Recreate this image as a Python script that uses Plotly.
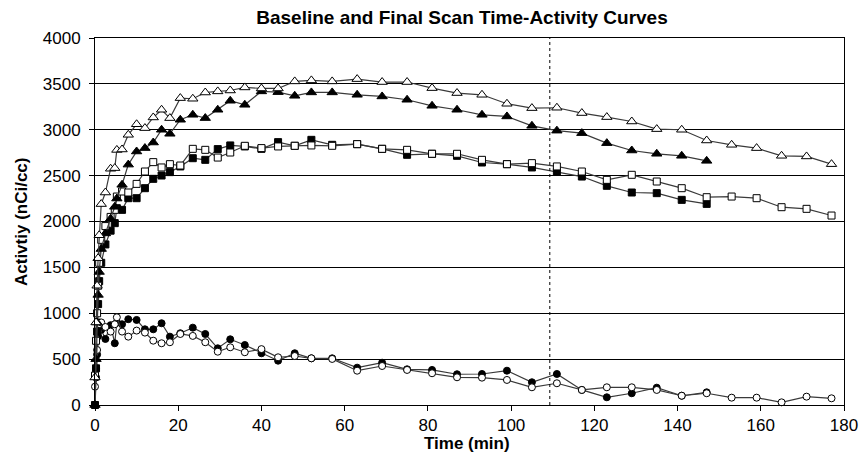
import plotly.graph_objects as go

# time grids (min)
t_baseline = [0, 0.25, 0.5, 0.75, 1, 1.5, 2.5, 3.75, 4.75, 5.25, 6.5, 8, 10, 12, 14, 16, 18,
              20.5, 23.5, 26.5, 29.5, 32.5, 36, 40, 44, 48, 52, 57, 63, 69, 75, 81, 87, 93,
              99, 105, 111, 117, 123, 129, 135, 141, 147, 153, 159, 165, 171, 177]
t_final = t_baseline[:43]

# baseline scan (open markers)
base_triangle = [300, 900, 1300, 1600, 1850, 2190, 2316, 2575, 2582, 2780, 2785, 2945, 3060,
                 3018, 3134, 3218, 3127, 3345, 3338, 3406, 3418, 3428, 3461, 3450, 3450, 3527,
                 3538, 3527, 3552, 3520, 3520, 3454, 3400, 3381, 3283, 3236, 3240, 3182, 3138,
                 3090, 3007, 3000, 2883, 2836, 2800, 2716, 2709, 2625]
base_square = [320, 700, 1000, 1300, 1550, 1800, 1950, 2050, 2127, 2272, 2327, 2316, 2410,
               2545, 2647, 2589, 2625, 2610, 2792, 2781, 2697, 2752, 2825, 2800, 2818, 2825,
               2829, 2825, 2843, 2792, 2781, 2738, 2738, 2672, 2625, 2636, 2600, 2545, 2454,
               2509, 2436, 2363, 2265, 2272, 2254, 2156, 2138, 2065]
base_circle = [200, 400, 600, 800, 880, 900, 850, 800, 880, 956, 800, 745, 811, 789, 701, 673,
               684, 774, 753, 684, 581, 629, 575, 609, 520, 534, 509, 502, 374, 425, 382, 346,
               302, 298, 273, 193, 237, 164, 193, 193, 164, 101, 128, 80, 80, 29, 91, 73]

# final scan (filled markers)
final_triangle = [0, 500, 900, 1200, 1450, 1700, 1870, 2030, 2160, 2250, 2400, 2620, 2763,
                  2800, 2861, 3000, 2956, 3109, 3163, 3127, 3218, 3316, 3272, 3418, 3410, 3370,
                  3407, 3407, 3381, 3363, 3327, 3261, 3218, 3163, 3145, 3043, 2990, 2963, 2854,
                  2774, 2738, 2716, 2661]
final_square = [0, 400, 800, 1100, 1350, 1550, 1750, 1900, 1982, 2145, 2127, 2254, 2254, 2363,
                2465, 2501, 2538, 2600, 2690, 2672, 2789, 2829, 2818, 2792, 2865, 2825, 2890,
                2836, 2843, 2792, 2727, 2738, 2716, 2643, 2625, 2589, 2540, 2490, 2389, 2316,
                2309, 2236, 2192]
final_circle = [0, 300, 550, 750, 900, 820, 720, 870, 673, 900, 880, 935, 927, 825, 825, 891,
                745, 782, 843, 774, 618, 716, 654, 564, 483, 564, 509, 509, 407, 461, 389, 382,
                335, 338, 374, 248, 338, 164, 84, 128, 189, 101, 138]

scan_marker_time = 109.3

FONT = "Arial, Liberation Sans, sans-serif"
LINE_COLOR = "#3a3a3a"

fig = go.Figure()

series = [
    (t_final, final_circle, "circle", "black", 7),
    (t_baseline, base_circle, "circle", "white", 7),
    (t_final, final_square, "square", "black", 7),
    (t_baseline, base_square, "square", "white", 7),
    (t_final, final_triangle, "triangle-up", "black", 9),
    (t_baseline, base_triangle, "triangle-up", "white", 9),
]
for x, y, sym, fill, sz in series:
    fig.add_trace(go.Scatter(
        x=x, y=y, mode="lines+markers",
        line=dict(color=LINE_COLOR, width=1.2),
        marker=dict(symbol=sym, size=sz, color=fill, line=dict(color="black", width=1)),
        showlegend=False, cliponaxis=False,
    ))

fig.add_shape(type="line", x0=scan_marker_time, x1=scan_marker_time, y0=0, y1=4000,
              xref="x", yref="y", line=dict(color="black", width=1, dash="dot"))

# plot area at window pixels left 95, right 844, top 38, bottom 405
fig.update_layout(
    width=861, height=466,
    margin=dict(l=95, r=17, t=38, b=61, autoexpand=False),
    paper_bgcolor="white", plot_bgcolor="white",
    font=dict(family=FONT, size=17, color="black"),
    title=dict(text="<b>Baseline and Final Scan Time-Activity Curves</b>",
               x=462 / 861, xref="container", xanchor="center",
               y=1 - 17 / 466, yref="container", yanchor="middle",
               font=dict(size=19, family=FONT)),
    annotations=[
        dict(text="<b>Time (min)</b>",
             xref="paper", yref="paper", x=(467 - 95) / 749, y=-(443 - 405) / 367,
             xanchor="center", yanchor="middle", showarrow=False,
             font=dict(size=17, family=FONT)),
        dict(text="<b>Activtiy (nCi/cc)</b>", textangle=-90,
             xref="paper", yref="paper", x=-(95 - 21) / 749, y=(405 - 222) / 367,
             xanchor="center", yanchor="middle", showarrow=False,
             font=dict(size=17, family=FONT)),
    ],
)
fig.update_xaxes(
    range=[0, 180], dtick=20, tick0=0, automargin=False,
    showline=True, linecolor="black", linewidth=1, mirror=True,
    ticks="outside", ticklen=5, tickcolor="black",
    showgrid=False, zeroline=False,
    tickfont=dict(size=17, family=FONT),
)
fig.update_yaxes(
    range=[0, 4000], dtick=500, tick0=0, automargin=False,
    showline=True, linecolor="black", linewidth=1, mirror=True,
    ticks="outside", ticklen=5, tickcolor="black", ticklabelstandoff=5,
    showgrid=True, gridcolor="black", gridwidth=1, zeroline=False,
    tickfont=dict(size=17, family=FONT),
)

# remove the browser's default 8px body margin so the figure fills the window
fig.write_html("out.html", config={"displayModeBar": False},
               post_script="document.body.style.margin='0';")
